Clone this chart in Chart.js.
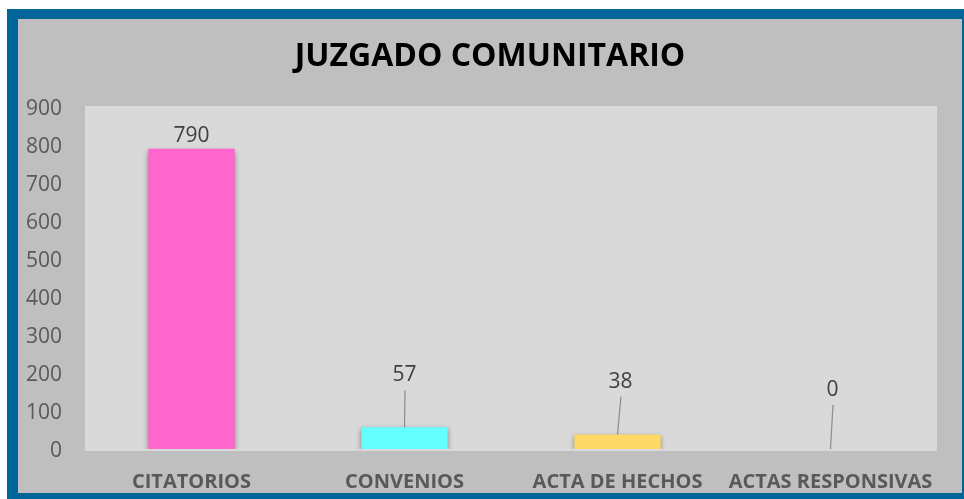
<!DOCTYPE html>
<html>
<head>
<meta charset="utf-8">
<script src="https://cdn.jsdelivr.net/npm/chart.js@4"></script>
<style>
  html, body { margin: 0; padding: 0; background: #ffffff; }
  #wrap { width: 964px; height: 499px; position: relative; }
</style>
</head>
<body>
<div id="wrap"><canvas id="chart" width="964" height="499"></canvas></div>
<script>
const chartTitle = 'JUZGADO COMUNITARIO';
const categories = ['CITATORIOS', 'CONVENIOS', 'ACTA DE HECHOS', 'ACTAS RESPONSIVAS'];
const values = [790, 57, 38, 0];
const barColors = ['#ff66cc', '#66ffff', '#ffd966', '#a5a5a5'];
const yTicks = [0, 100, 200, 300, 400, 500, 600, 700, 800, 900];

// label placement (px above bar top) and leader lines
const labelLift = [13, 52, 53, 59];
const labelShift = [0, 0, 3, 2];
const hasLeader = [false, true, true, true];

const frame = {
  id: 'frame',
  beforeDraw(chart) {
    const { ctx, chartArea: a } = chart;
    ctx.save();
    ctx.fillStyle = '#ffffff';
    ctx.fillRect(0, 0, 964, 499);
    ctx.fillStyle = '#006699';
    ctx.fillRect(7, 9, 957, 490);
    ctx.fillStyle = '#bfbfbf';
    ctx.fillRect(18, 19, 944, 474);
    ctx.fillStyle = '#d9d9d9';
    ctx.fillRect(a.left, a.top - 1, a.right - a.left, a.bottom - a.top + 3);
    // title, centred a little right of the plot like the original
    ctx.font = 'bold 32px "Open Sans"';
    ctx.fillStyle = '#000000';
    ctx.textAlign = 'center';
    ctx.textBaseline = 'middle';
    ctx.fillText(chartTitle, 490, 57);
    ctx.restore();
  },
  beforeDatasetsDraw(chart) {
    const { ctx } = chart;
    ctx.save();
    ctx.shadowColor = 'rgba(0,0,0,0.4)';
    ctx.shadowBlur = 5;
    ctx.shadowOffsetY = 2;
  },
  afterDatasetsDraw(chart) {
    const { ctx } = chart;
    ctx.restore();
    const meta = chart.getDatasetMeta(0);
    ctx.save();
    ctx.font = '21px "Open Sans"';
    ctx.fillStyle = '#404040';
    ctx.textAlign = 'center';
    ctx.textBaseline = 'middle';
    meta.data.forEach((bar, i) => {
      const ly = bar.y - labelLift[i];
      const lx = bar.x + labelShift[i];
      ctx.fillText(String(values[i]), lx, ly);
      if (hasLeader[i]) {
        ctx.strokeStyle = '#8c8c8c';
        ctx.lineWidth = 1.2;
        ctx.beginPath();
        ctx.moveTo(lx + 0.5, ly + 15);
        ctx.lineTo(bar.x, bar.y);
        ctx.stroke();
      }
    });
    ctx.restore();
  }
};

new Chart(document.querySelector('#chart'), {
  type: 'bar',
  data: {
    labels: categories,
    datasets: [{ data: values, backgroundColor: barColors, borderWidth: 0, barPercentage: 0.5, categoryPercentage: 0.81 }],
  },
  options: {
    responsive: false,
    animation: false,
    devicePixelRatio: 1,
    layout: { padding: { left: 18, right: 27, top: 107, bottom: 7 } },
    plugins: {
      legend: { display: false },
      tooltip: { enabled: false },
      title: { display: false },
    },
    scales: {
      x: {
        grid: { display: false, drawTicks: false },
        border: { display: false },
        ticks: { color: '#595959', font: { family: 'Open Sans', size: 20, weight: 'bold' }, padding: 21, maxRotation: 0, autoSkip: false },
        afterFit(scale) { scale.height = 43; },
      },
      y: {
        min: 0,
        max: 900,
        grid: { display: false, drawTicks: false },
        border: { display: false },
        afterBuildTicks(scale) { scale.ticks = yTicks.map((v) => ({ value: v })); },
        ticks: { color: '#595959', font: { family: 'Open Sans', size: 21 }, padding: 23, labelOffset: 2 },
        afterFit(scale) { scale.width = 67; },
      },
    },
  },
  plugins: [frame],
});
</script>
</body>
</html>
